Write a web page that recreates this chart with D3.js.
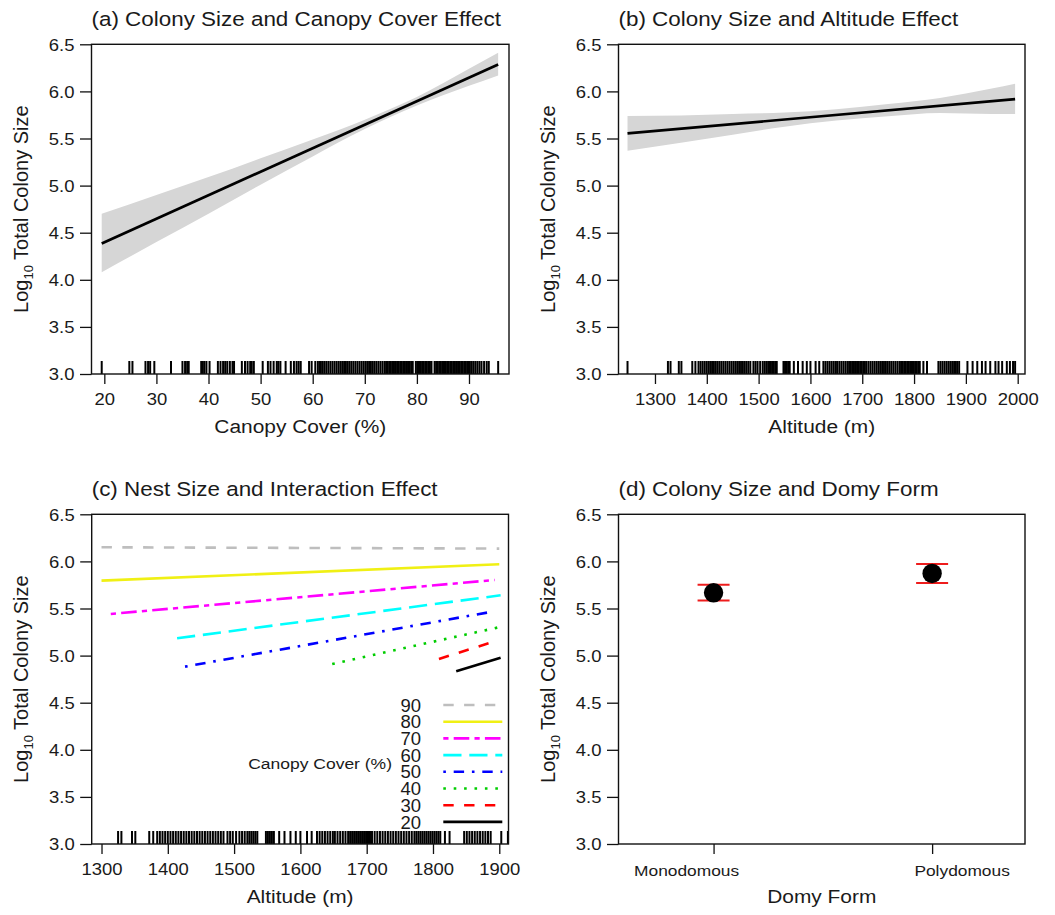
<!DOCTYPE html>
<html><head><meta charset="utf-8">
<script src="https://cdn.jsdelivr.net/npm/d3@7"></script>
<style>body{margin:0;background:#fff} svg{display:block}</style>
</head><body><svg id="c" width="1055" height="915"></svg>
<script>
// ================= DATA =================
const yTicks = [3.0, 3.5, 4.0, 4.5, 5.0, 5.5, 6.0, 6.5];
const canopyTicks = [20, 30, 40, 50, 60, 70, 80, 90];
const altTicksB = [1300, 1400, 1500, 1600, 1700, 1800, 1900, 2000];
const altTicksC = [1300, 1400, 1500, 1600, 1700, 1800, 1900];

// (a) fitted line + confidence band
const canopyFitX = [19.5, 95.6];
const canopyFitY = [4.386, 6.286];
const canopyBandX  = [19.5, 30, 40, 50, 60, 70, 80, 90, 95.6];
const canopyBandHi = [4.70, 4.90, 5.09, 5.29, 5.49, 5.70, 5.94, 6.24, 6.41];
const canopyBandLo = [4.08, 4.40, 4.70, 5.01, 5.31, 5.60, 5.85, 6.06, 6.17];

// (b) fitted line + confidence band
const altFitX = [1247, 1995];
const altFitY = [5.555, 5.917];
const altBandX  = [1247, 1350, 1450, 1550, 1650, 1750, 1850, 1950, 1995];
const altBandHi = [5.74, 5.745, 5.76, 5.775, 5.81, 5.865, 5.93, 6.03, 6.08];
const altBandLo = [5.37, 5.455, 5.54, 5.625, 5.69, 5.735, 5.77, 5.76, 5.76];

// rug data
const canopyRug = [19.5, 24.8, 25.4, 27.9, 28.4, 28.8, 29.6, 32.8, 35.0, 35.5, 35.9, 36.2,
  38.6, 38.9, 39.2, 39.6, 40.2, 41.8, 42.3, 42.8, 43.2, 43.6, 44.1, 44.6, 44.9, 46.4, 47.0,
  47.5, 48.0, 48.3, 48.7, 50.4, 51.4, 51.9, 52.5, 53.1, 53.4, 53.8, 54.8, 55.8, 56.4, 56.9,
  57.3, 57.7, 59.3, 59.8, 60.5, 61.0, 61.4, 61.8, 62.2, 62.6, 63.0, 63.4, 63.8, 64.2, 64.6,
  65.0, 65.4, 65.8, 66.2, 66.6, 67.0, 67.4, 67.8, 68.2, 68.6, 69.0, 69.4, 69.8, 70.2, 70.6,
  71.0, 71.4, 71.8, 72.2, 72.6, 73.0, 73.4, 73.8, 74.1, 74.4, 74.7, 75.0, 75.3, 75.6, 75.9,
  76.2, 76.5, 76.8, 77.1, 77.4, 77.7, 78.0, 78.3, 78.6, 78.9, 79.2, 79.8, 80.1, 80.4, 80.7,
  81.0, 81.3, 81.6, 81.9, 82.2, 82.5, 82.8, 83.4, 83.7, 84.0, 84.3, 84.6, 84.9, 85.2, 85.5,
  85.8, 86.1, 86.4, 86.7, 87.0, 87.3, 87.6, 87.9, 88.2, 88.5, 88.8, 89.1, 89.4, 89.7, 90.0,
  90.4, 90.8, 91.2, 91.6, 92.0, 92.4, 92.9, 93.4, 93.8, 95.6];
const altitudeRug = [1247, 1325, 1330, 1346, 1351, 1372, 1378, 1384, 1388, 1392, 1396, 1400,
  1404, 1408, 1412, 1416, 1420, 1424, 1428, 1432, 1436, 1440, 1444, 1448, 1452, 1456, 1460,
  1464, 1468, 1472, 1476, 1480, 1484, 1490, 1494, 1498, 1503, 1508, 1512, 1516, 1520, 1523,
  1526, 1529, 1532, 1535, 1548, 1551, 1554, 1557, 1560, 1568, 1576, 1585, 1593, 1600, 1610,
  1617, 1625, 1629, 1633, 1637, 1641, 1645, 1649, 1652, 1656, 1660, 1664, 1668, 1672, 1675,
  1678, 1681, 1684, 1687, 1690, 1693, 1696, 1699, 1702, 1705, 1708, 1712, 1716, 1720, 1724,
  1728, 1732, 1736, 1740, 1744, 1748, 1752, 1756, 1760, 1764, 1768, 1772, 1775, 1778, 1781,
  1784, 1787, 1790, 1793, 1796, 1799, 1802, 1805, 1808, 1811, 1818, 1825, 1847, 1851, 1855,
  1859, 1863, 1867, 1871, 1875, 1879, 1883, 1887, 1903, 1913, 1922, 1931, 1938, 1947, 1957,
  1963, 1970, 1979, 1985, 1991, 1995];

// (c) interaction lines per canopy cover level
const coverLevels   = [90, 80, 70, 60, 50, 40, 30, 20];
const coverStartAlt = [1300, 1300, 1314, 1414, 1426, 1648, 1809, 1835];
const coverEndAlt   = [1900, 1900, 1893, 1902, 1890, 1897, 1884, 1902];
const coverStartY   = [6.150, 5.796, 5.442, 5.184, 4.883, 4.911, 4.964, 4.833];
const coverEndY     = [6.136, 5.969, 5.803, 5.640, 5.467, 5.297, 5.131, 4.978];

// (d) domy form
const domyForms = ["Monodomous", "Polydomous"];
const domyMean  = [5.667, 5.872];
const domyLo    = [5.585, 5.771];
const domyHi    = [5.753, 5.973];

// ================= STYLE / LAYOUT =================
const F = "'Liberation Sans', Arial, Helvetica, sans-serif";
const SX = 1.12;          // horizontal stretch of the original picture
const TXT = "#1a1a1a";
const U = 2.6;            // dash unit
const TICKFS = 16.5;
const coverStyle = {
  90: {c: "#bebebe", d: [4, 4]},
  80: {c: "#f0f014", d: null},
  70: {c: "#ff00ff", d: [2, 2, 6, 2]},
  60: {c: "#00ffff", d: [7, 3]},
  50: {c: "#0000ff", d: [1, 3, 4, 3]},
  40: {c: "#00cd00", d: [1, 3]},
  30: {c: "#ff0000", d: [4, 4]},
  20: {c: "#000000", d: null}
};
const P = {
  a: {l: 91.5,  r: 509,   t: 44.3,  b: 374},
  b: {l: 618.5, r: 1025,  t: 44.3,  b: 374},
  c: {l: 91.7,  r: 508.5, t: 514.3, b: 844},
  d: {l: 618.5, r: 1025,  t: 514.3, b: 844}
};

const svg = d3.select('#c');

function stext(g, x, y, s, size, anchor, sx) {
  return g.append('text')
    .attr('transform', `translate(${x},${y}) scale(${sx},1)`)
    .attr('font-family', F).attr('font-size', size)
    .attr('text-anchor', anchor).attr('fill', TXT).text(s);
}

function styleAxis(a) {
  a.select('.domain').remove();
  a.attr('font-family', F).attr('font-size', TICKFS);
  a.selectAll('line').attr('stroke', '#111').attr('stroke-width', 1.3);
  a.selectAll('text').attr('fill', TXT);
}

function makePanel(key, cfg) {
  const p = P[key];
  const g = svg.append('g');
  const x = d3.scaleLinear().domain(cfg.xd).range([p.l, p.r]);
  const y = d3.scaleLinear().domain([3, 6.5]).range([p.b, p.t]);

  const ay = g.append('g').attr('transform', `translate(${p.l},0)`)
    .call(d3.axisLeft(y).tickValues(yTicks).tickSize(11.5).tickFormat(d3.format('.1f')));
  styleAxis(ay);
  ay.selectAll('text').attr('x', -17 / SX).attr('dy', '0.36em')
    .attr('transform', `scale(${SX},1)`);

  const ax = g.append('g').attr('transform', `translate(0,${p.b})`)
    .call(d3.axisBottom(x).tickValues(cfg.xt).tickSize(10).tickFormat(cfg.xf || d3.format('d')));
  styleAxis(ax);
  ax.selectAll('text').attr('y', 31.5).attr('dy', 0).attr('transform', `scale(${SX},1)`);

  // titles
  stext(g, p.l, p.t - 18.3, cfg.title, 19.5, 'start', 1.15);
  if (cfg.xlab) stext(g, (p.l + p.r) / 2, p.b + 59, cfg.xlab, 19, 'middle', 1.1);
  const yt = g.append('text')
    .attr('transform', `translate(${p.l - 63.5},${(p.t + p.b) / 2}) rotate(-90)`)
    .attr('font-family', F).attr('font-size', 20).attr('text-anchor', 'middle').attr('fill', TXT);
  yt.append('tspan').text('Log');
  yt.append('tspan').attr('font-size', 13).attr('dy', 5).text('10');
  yt.append('tspan').attr('dy', -5).text(' Total Colony Size');

  const content = g.append('g');
  const box = () => g.append('rect').attr('x', p.l).attr('y', p.t)
    .attr('width', p.r - p.l).attr('height', p.b - p.t)
    .attr('fill', 'none').attr('stroke', '#111').attr('stroke-width', 1.4);
  return {g: content, x, y, p, box};
}

function drawRug(P_, data) {
  const dom = P_.x.domain();
  P_.g.append('g').selectAll('line')
    .data(data.filter(v => v >= dom[0] && v <= dom[1]))
    .join('line')
    .attr('x1', d => P_.x(d)).attr('x2', d => P_.x(d))
    .attr('y1', P_.y(3)).attr('y2', P_.y(3) - 13)
    .attr('stroke', '#000').attr('stroke-width', 2);
}

function drawFit(P_, bx, hi, lo, fx, fy) {
  const area = d3.area().curve(d3.curveMonotoneX)
    .x((d, i) => P_.x(bx[i])).y0((d, i) => P_.y(lo[i])).y1((d, i) => P_.y(hi[i]));
  P_.g.append('path').attr('d', area(bx)).attr('fill', '#d6d6d6');
  const line = d3.line().x(d => P_.x(d[0])).y(d => P_.y(d[1]));
  P_.g.append('path').attr('d', line(fx.map((v, i) => [v, fy[i]])))
    .attr('fill', 'none').attr('stroke', '#000').attr('stroke-width', 2.7);
}

// ---------- (a) ----------
const A = makePanel('a', {xd: [17.54, 97.68], xt: canopyTicks,
  title: '(a) Colony Size and Canopy Cover Effect', xlab: 'Canopy Cover (%)'});
drawFit(A, canopyBandX, canopyBandHi, canopyBandLo, canopyFitX, canopyFitY);
drawRug(A, canopyRug);
A.box();

// ---------- (b) ----------
const B = makePanel('b', {xd: [1229.6, 2014.1], xt: altTicksB,
  title: '(b) Colony Size and Altitude Effect', xlab: 'Altitude (m)'});
drawFit(B, altBandX, altBandHi, altBandLo, altFitX, altFitY);
drawRug(B, altitudeRug);
B.box();

// ---------- (c) ----------
const C = makePanel('c', {xd: [1285.2, 1913.9], xt: altTicksC,
  title: '(c) Nest Size and Interaction Effect', xlab: 'Altitude (m)'});
const cline = d3.line().x(d => C.x(d[0])).y(d => C.y(d[1]));
coverLevels.forEach((lev, i) => {
  const st = coverStyle[lev];
  C.g.append('path')
    .attr('d', cline([[coverStartAlt[i], coverStartY[i]], [coverEndAlt[i], coverEndY[i]]]))
    .attr('fill', 'none').attr('stroke', st.c).attr('stroke-width', 2.6)
    .attr('stroke-dasharray', st.d ? st.d.map(v => v * U).join(' ') : null);
});
drawRug(C, altitudeRug);
// legend
const lg = C.g.append('g');
const lx0 = C.p.l + 351.6, lx1 = C.p.l + 410.6, ly0 = C.p.t + 190.7, lstep = 16.7;
coverLevels.forEach((lev, i) => {
  const st = coverStyle[lev];
  const yy = ly0 + i * lstep;
  lg.append('line').attr('x1', lx0).attr('x2', lx1).attr('y1', yy).attr('y2', yy)
    .attr('stroke', st.c).attr('stroke-width', 2.6)
    .attr('stroke-dasharray', st.d ? st.d.map(v => v * U).join(' ') : null);
  lg.append('text').attr('x', C.p.l + 329.3).attr('y', yy + 6.6)
    .attr('font-family', F).attr('font-size', 18.5).attr('text-anchor', 'end')
    .attr('fill', TXT).text(lev);
});
stext(lg, C.p.l + 300.3, C.p.t + 254.6, 'Canopy Cover (%)', 15.5, 'end', 1.13);
C.box();

// ---------- (d) ----------
const D = makePanel('d', {xd: [0.565, 2.425], xt: [1, 2], xf: () => '',
  title: '(d) Colony Size and Domy Form', xlab: 'Domy Form'});
const labelShift = [-27, 30];
domyForms.forEach((f, i) => {
  stext(D.g, D.x(i + 1) + labelShift[i], D.p.b + 31.5, f, 15.5, 'middle', 1.12);
});
const eb = D.g.append('g');
domyForms.forEach((f, i) => {
  const cx = D.x(i + 1);
  eb.append('line').attr('x1', cx).attr('x2', cx).attr('y1', D.y(domyLo[i])).attr('y2', D.y(domyHi[i]))
    .attr('stroke', '#ee1c1c').attr('stroke-width', 2);
  [domyLo[i], domyHi[i]].forEach(v => {
    eb.append('line').attr('x1', cx - 16).attr('x2', cx + 16).attr('y1', D.y(v)).attr('y2', D.y(v))
      .attr('stroke', '#ee1c1c').attr('stroke-width', 2);
  });
  eb.append('circle').attr('cx', cx).attr('cy', D.y(domyMean[i])).attr('r', 9.7).attr('fill', '#000');
});
D.box();
</script>
</body></html>
